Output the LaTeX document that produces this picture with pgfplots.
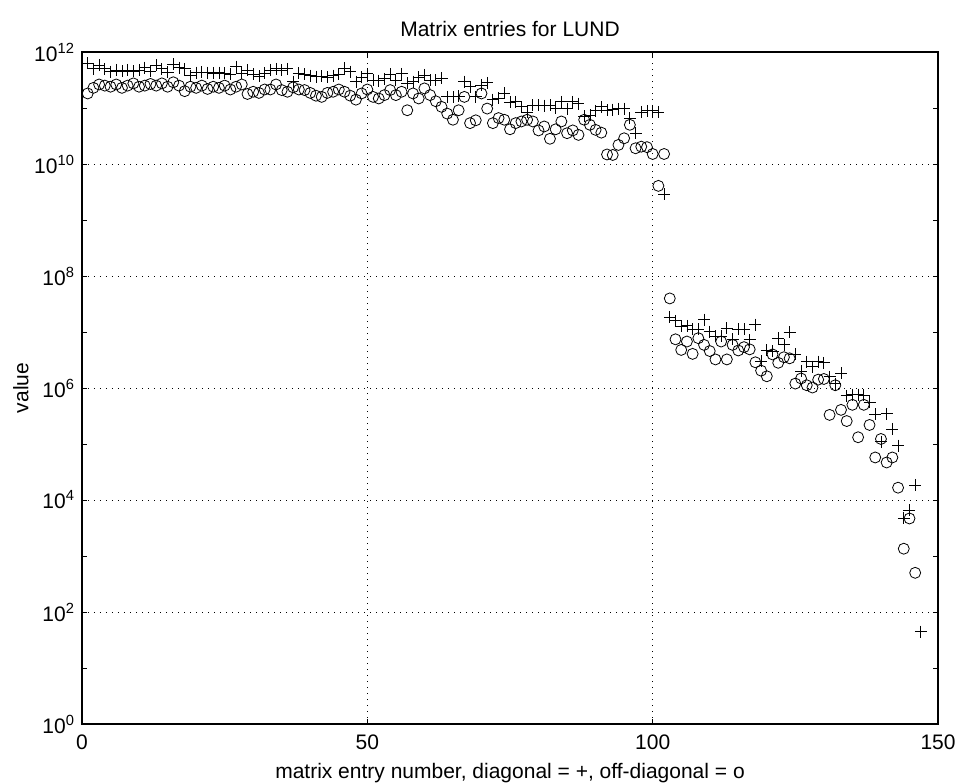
\documentclass[border=0pt]{standalone}
\usepackage{fontspec}
\setmainfont{Liberation Sans}
\usepackage{pgfplots}
\usepackage{pgfplotstable}
\pgfplotsset{compat=1.18}

% diagonal entries (+)
\pgfplotstableread{
i v
1 6.31e11
2 5.01e11
3 5.75e11
4 5.01e11
5 4.47e11
6 4.79e11
7 4.57e11
8 4.79e11
9 4.57e11
10 4.79e11
11 5.25e11
12 4.57e11
13 5.75e11
14 5.01e11
15 4.37e11
16 6.03e11
17 5.25e11
18 5.01e11
19 3.80e11
20 4.27e11
21 4.37e11
22 4.27e11
23 4.17e11
24 4.27e11
25 4.17e11
26 3.98e11
27 5.50e11
28 4.17e11
29 4.68e11
30 3.98e11
31 3.72e11
32 4.17e11
33 4.79e11
34 5.01e11
35 4.68e11
36 5.01e11
37 2.95e11
38 4.17e11
39 3.98e11
40 3.80e11
41 3.63e11
42 3.72e11
43 3.55e11
44 3.80e11
45 3.98e11
46 5.13e11
47 4.47e11
48 2.95e11
49 3.55e11
50 4.07e11
51 3.16e11
52 3.09e11
53 3.31e11
54 3.98e11
55 3.16e11
56 4.07e11
57 2.75e11
58 2.95e11
59 3.55e11
60 3.89e11
61 3.16e11
62 3.16e11
63 3.39e11
64 1.58e11
65 1.58e11
66 1.62e11
67 2.95e11
68 2.40e11
69 1.58e11
70 2.57e11
71 2.82e11
72 1.41e11
73 1.48e11
74 1.82e11
75 1.26e11
76 1.29e11
77 1.05e11
78 8.51e10
79 1.12e11
80 1.12e11
81 1.10e11
82 1.12e11
83 1.00e11
84 1.29e11
85 9.77e10
86 1.29e11
87 1.20e11
88 7.08e10
89 7.41e10
90 8.91e10
91 1.05e11
92 9.12e10
93 9.33e10
94 9.77e10
95 9.77e10
96 6.61e10
97 3.55e10
98 8.51e10
99 8.91e10
100 8.91e10
101 8.51e10
102 2.88e9
103 1.86e7
104 1.58e7
105 1.26e7
106 1.29e7
107 1.12e7
108 1.12e7
109 1.66e7
110 1.02e7
111 8.32e6
112 8.32e6
113 1.17e7
114 7.41e6
115 1.12e7
116 1.12e7
117 7.24e6
118 1.35e7
119 3.02e6
120 4.68e6
121 4.57e6
122 7.76e6
123 5.89e6
124 1.00e7
125 3.98e6
126 2.00e6
127 2.95e6
128 2.40e6
129 2.95e6
130 2.82e6
131 1.58e6
132 1.20e6
133 1.82e6
134 7.24e5
135 7.59e5
136 7.59e5
137 7.41e5
138 5.62e5
139 3.39e5
140 1.10e5
141 3.47e5
142 1.86e5
143 9.33e4
144 4.79e3
145 6.61e3
146 1.86e4
147 4.47e1
}\diagdata

% off-diagonal entries (o)
\pgfplotstableread{
i v
1 1.82e11
2 2.29e11
3 2.63e11
4 2.51e11
5 2.40e11
6 2.63e11
7 2.29e11
8 2.51e11
9 2.75e11
10 2.40e11
11 2.51e11
12 2.69e11
13 2.51e11
14 2.75e11
15 2.40e11
16 2.88e11
17 2.51e11
18 2.00e11
19 2.40e11
20 2.29e11
21 2.51e11
22 2.19e11
23 2.40e11
24 2.29e11
25 2.51e11
26 2.14e11
27 2.40e11
28 2.63e11
29 1.78e11
30 1.95e11
31 1.86e11
32 2.14e11
33 2.14e11
34 2.63e11
35 2.09e11
36 1.95e11
37 2.34e11
38 2.14e11
39 2.09e11
40 1.86e11
41 1.66e11
42 1.58e11
43 1.86e11
44 1.95e11
45 2.14e11
46 1.95e11
47 1.66e11
48 1.41e11
49 1.82e11
50 2.14e11
51 1.58e11
52 1.48e11
53 1.70e11
54 2.09e11
55 1.70e11
56 1.95e11
57 9.12e10
58 1.82e11
59 1.48e11
60 2.24e11
61 1.70e11
62 1.32e11
63 1.05e11
64 7.94e10
65 6.17e10
66 9.12e10
67 1.58e11
68 5.37e10
69 6.03e10
70 1.82e11
71 9.77e10
72 5.37e10
73 6.61e10
74 6.17e10
75 4.17e10
76 5.37e10
77 5.75e10
78 6.17e10
79 5.75e10
80 3.98e10
81 4.68e10
82 2.82e10
83 4.17e10
84 5.75e10
85 3.55e10
86 3.98e10
87 3.31e10
88 6.17e10
89 5.01e10
90 4.07e10
91 3.63e10
92 1.48e10
93 1.45e10
94 2.19e10
95 2.88e10
96 5.01e10
97 1.91e10
98 2.04e10
99 2.00e10
100 1.51e10
101 4.07e9
102 1.51e10
103 3.98e7
104 7.41e6
105 4.79e6
106 6.76e6
107 4.07e6
108 7.76e6
109 5.89e6
110 4.57e6
111 3.24e6
112 6.76e6
113 3.24e6
114 5.89e6
115 4.68e6
116 5.37e6
117 4.90e6
118 2.88e6
119 2.04e6
120 1.62e6
121 3.98e6
122 2.82e6
123 3.55e6
124 3.39e6
125 1.20e6
126 1.48e6
127 1.12e6
128 1.02e6
129 1.41e6
130 1.45e6
131 3.31e5
132 1.12e6
133 4.07e5
134 2.57e5
135 5.01e5
136 1.32e5
137 5.01e5
138 2.19e5
139 5.75e4
140 1.23e5
141 4.68e4
142 5.75e4
143 1.66e4
144 1.35e3
145 4.68e3
146 5.01e2
}\offdata

\begin{document}
\begin{tikzpicture}
\useasboundingbox (-41pt,-29.5pt) rectangle (439.5pt,362pt);
\begin{axis}[
  at={(0,0)}, anchor=south west,
  width=428pt, height=336pt, scale only axis,
  ymode=log,
  xmin=0, xmax=150, ymin=1, ymax=1e12,
  xtick={0,50,100,150},
  xticklabels={0,50,100,150},
  ytick={1,1e2,1e4,1e6,1e8,1e10,1e12},
  minor ytick={1e1,1e3,1e5,1e7,1e9,1e11},
  yticklabels={10\textsuperscript{0},10\textsuperscript{2},10\textsuperscript{4},10\textsuperscript{6},10\textsuperscript{8},10\textsuperscript{10},10\textsuperscript{12}},
  grid=major,
  major grid style={black, line width=0.3pt, dash pattern=on 0.4pt off 2.6pt},
  tick align=inside,
  major tick length=2.5pt, minor tick length=2.5pt,
  tick style={black, line width=0.5pt},
  axis line style={black, line width=0.7pt},
  tick label style={font=\fontsize{10.5}{12}\selectfont},
  xticklabel style={yshift=-2pt},
  label style={font=\fontsize{10.5}{12}\selectfont},
  title style={font=\fontsize{10.5}{12}\selectfont, yshift=-2pt},
  title={Matrix entries for LUND},
  xlabel={matrix entry number, diagonal = +, off-diagonal = o},
  ylabel={value},
  xlabel style={yshift=0pt},
  ylabel style={yshift=-4pt},
  clip=false,
]
\addplot[only marks, mark=+, mark size=3pt, mark options={line width=0.4pt}] table[x=i, y=v] {\diagdata};
\addplot[only marks, mark=o, mark size=2.75pt, mark options={line width=0.4pt}] table[x=i, y=v] {\offdata};
\end{axis}
\end{tikzpicture}
\end{document}
